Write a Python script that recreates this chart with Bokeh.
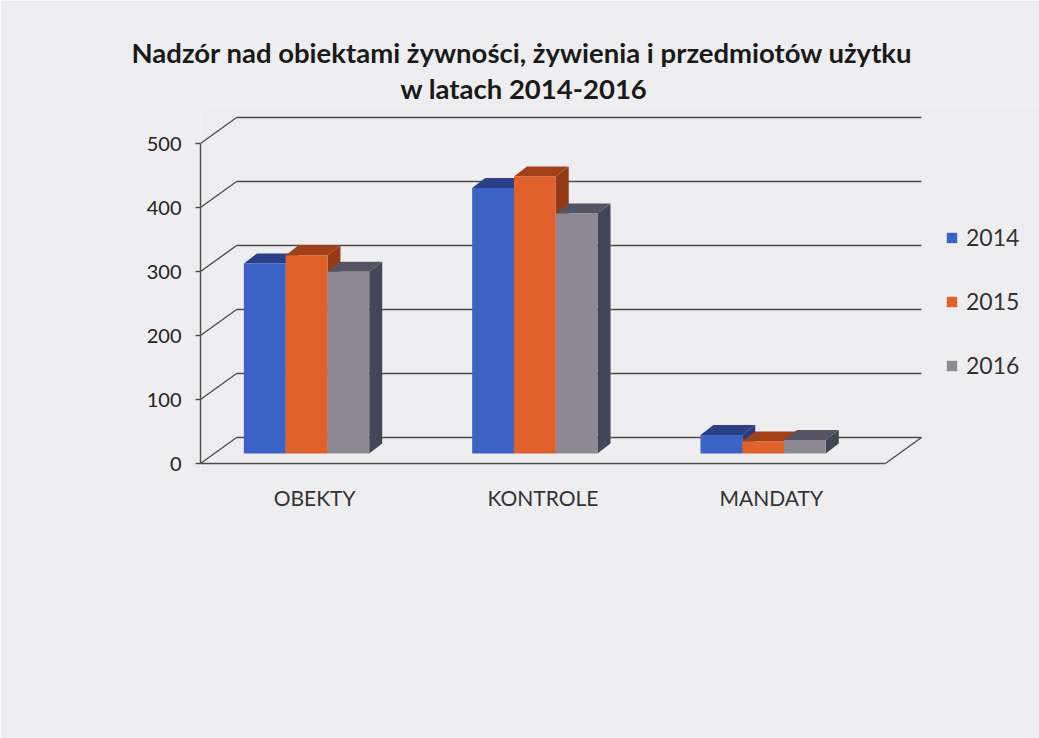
from bokeh.plotting import figure
from bokeh.models import Range1d, FixedTicker, Legend, LegendItem, Title
from bokeh.embed import file_html
from bokeh.resources import INLINE

# ---- data ----
categories = ["OBEKTY", "KONTROLE", "MANDATY"]
years = ["2014", "2015", "2016"]
values_2014 = [297, 415, 29]
values_2015 = [310, 433, 19]
values_2016 = [284, 375, 21]
y_ticks = [0, 100, 200, 300, 400, 500]
title_lines = ["Nadzór nad obiektami żywności, żywienia i przedmiotów użytku",
               "w latach 2014-2016"]

series = [values_2014, values_2015, values_2016]

# ---- style ----
BG = "#eeeef0"
front_colors = ["#3b62c6", "#e0612b", "#8d8893"]
top_colors = ["#2a3f88", "#a2401a", "#555463"]
side_colors = ["#283b7e", "#953a17", "#434657"]
GRID = "#4d4d4d"
FONT = "Lato"

# 3D geometry (x in category units, y in value units)
DX, DY = 0.158, 40.6      # wall depth
BAR_X0, BAR_W = 0.19, 0.183
BASE = 15.6               # bar front face sits slightly behind the front floor edge
SDX, SDY = 0.057, 15.6    # bar depth
ncat = len(categories)
ymax = max(y_ticks)

p = figure(width=1039, height=738,
           x_range=Range1d(0, 3.675), y_range=Range1d(-20.3, 559.4),
           output_backend="svg", toolbar_location=None,
           min_border_left=200, min_border_right=0,
           min_border_top=105, min_border_bottom=262,
           background_fill_color=BG, border_fill_color=BG,
           outline_line_color=None)
p.xgrid.visible = False
p.ygrid.visible = False

# walls / floor
wall_xs, wall_ys = [], []
for v in y_ticks:
    wall_xs.append([0, DX]); wall_ys.append([v, v + DY])
    wall_xs.append([DX, ncat + DX]); wall_ys.append([v + DY, v + DY])
wall_xs.append([0, ncat]); wall_ys.append([0, 0])
wall_xs.append([ncat, ncat + DX]); wall_ys.append([0, DY])
p.multi_line(wall_xs, wall_ys, line_color=GRID, line_width=1.4)

# bars
front_renderers = []
for j, vals in enumerate(series):
    x0 = [i + BAR_X0 + j * BAR_W for i in range(ncat)]
    x1 = [a + BAR_W for a in x0]
    tops = [BASE + v for v in vals]
    side_xs = [[b, b + SDX, b + SDX, b] for b in x1]
    side_ys = [[BASE, BASE + SDY, t + SDY, t] for t in tops]
    top_xs = [[a, b, b + SDX, a + SDX] for a, b in zip(x0, x1)]
    top_ys = [[t, t, t + SDY, t + SDY] for t in tops]
    p.patches(side_xs, side_ys, fill_color=side_colors[j], line_color=None)
    p.patches(top_xs, top_ys, fill_color=top_colors[j], line_color=None)
    r = p.quad(left=x0, right=x1, bottom=[BASE] * ncat, top=tops,
               fill_color=front_colors[j], line_color=None)
    front_renderers.append(r)

# axes
p.yaxis.ticker = FixedTicker(ticks=y_ticks)
p.yaxis.bounds = (0, ymax)
p.yaxis.axis_line_color = GRID
p.yaxis.axis_line_width = 1.4
p.yaxis.major_tick_line_color = GRID
p.yaxis.major_tick_line_width = 1.4
p.yaxis.major_tick_out = 5
p.yaxis.major_tick_in = 0
p.yaxis.minor_tick_line_color = None
p.yaxis.major_label_standoff = 14
p.yaxis.major_label_text_font = FONT
p.yaxis.major_label_text_font_size = "20px"
p.yaxis.major_label_text_color = "#222222"

p.xaxis.ticker = FixedTicker(ticks=[i + 0.5 for i in range(ncat)])
p.xaxis.major_label_overrides = {i + 0.5: c for i, c in enumerate(categories)}
p.xaxis.axis_line_color = None
p.xaxis.major_tick_line_color = None
p.xaxis.minor_tick_line_color = None
p.xaxis.major_label_standoff = 2
p.xaxis.major_label_text_font = FONT
p.xaxis.major_label_text_font_size = "21px"
p.xaxis.major_label_text_color = "#333333"

# legend
legend = Legend(items=[LegendItem(label=y, renderers=[r]) for y, r in zip(years, front_renderers)],
                location=(745, 97), orientation="vertical",
                glyph_width=13, glyph_height=13, label_height=28, label_width=50,
                spacing=36, padding=0, margin=0, label_standoff=8,
                background_fill_alpha=0, border_line_color=None,
                label_text_font=FONT, label_text_font_size="23px",
                label_text_color="#333333")
p.add_layout(legend)

# title: first added sits closest to the plot
p.add_layout(Title(text=title_lines[1], align="left", offset=200, standoff=2,
                   text_font=FONT, text_font_size="27.5px", text_font_style="bold",
                   text_color="#1a1a1a"), "above")
p.add_layout(Title(text=title_lines[0], align="left", offset=-69, standoff=0,
                   text_font=FONT, text_font_size="27.5px", text_font_style="bold",
                   text_color="#1a1a1a"), "above")

open("out.html", "w").write(file_html(p, INLINE))
